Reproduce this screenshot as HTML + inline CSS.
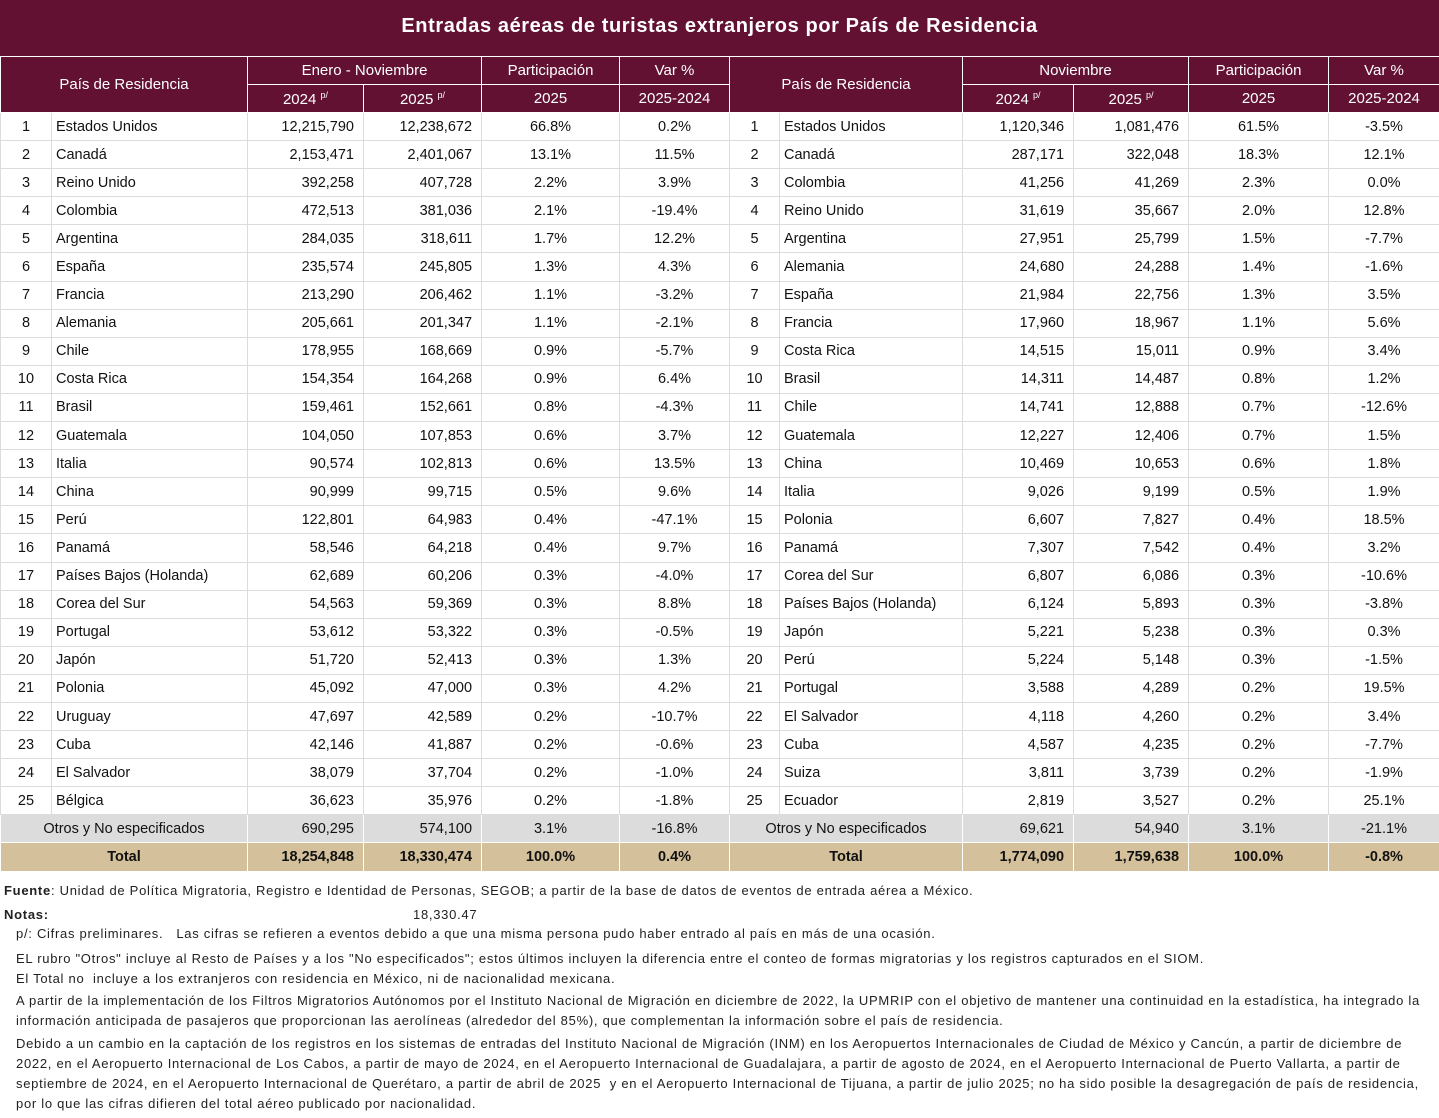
<!DOCTYPE html>
<html><head><meta charset="utf-8"><style>
body{margin:0;width:1439px;height:1118px;background:#fff;font-family:"Liberation Sans",sans-serif;color:#111;position:relative;overflow:hidden}
.title{position:absolute;left:0;top:0;width:1439px;height:56px;background:#621132;color:#fff;font-weight:bold;font-size:20px;letter-spacing:0.6px;text-align:center;line-height:52px}
table{position:absolute;left:0;top:56px;border-collapse:collapse;table-layout:fixed;width:1439px;font-size:14.5px}
td,th{padding:0;overflow:hidden;white-space:nowrap}
th{background:#621132;color:#fff;font-weight:normal;border:1px solid #fff;height:27px;font-size:15px}
th sup{font-size:9px;vertical-align:6px}
tbody td{height:27.1px;border:1px solid #dcdcdc;border-top:none}
td.n{text-align:center}
td.c{text-align:left;padding-left:4px}
td.r{text-align:right;padding-right:9px}
td.p{text-align:center}
tr.o td{background:#dcdcdc;border-color:#fff}
tr.t td{background:#d4c19c;font-weight:bold;border-color:#fff}
.note{position:absolute;font-size:13px;color:#222;white-space:nowrap;letter-spacing:0.72px}
</style></head><body>
<div class="title">Entradas aéreas de turistas extranjeros por País de Residencia</div>
<table>
<colgroup><col style="width:51px"><col style="width:196px"><col style="width:116px"><col style="width:118px"><col style="width:138px"><col style="width:110px"><col style="width:50px"><col style="width:183px"><col style="width:111px"><col style="width:115px"><col style="width:140px"><col style="width:111px"></colgroup>
<thead>
<tr><th colspan="2" rowspan="2">País de Residencia</th><th colspan="2">Enero - Noviembre</th><th>Participación</th><th>Var %</th><th colspan="2" rowspan="2">País de Residencia</th><th colspan="2">Noviembre</th><th>Participación</th><th>Var %</th></tr>
<tr><th>2024 <sup>p/</sup></th><th>2025 <sup>p/</sup></th><th>2025</th><th>2025-2024</th><th>2024 <sup>p/</sup></th><th>2025 <sup>p/</sup></th><th>2025</th><th>2025-2024</th></tr>
</thead>
<tbody>
<tr><td class="n">1</td><td class="c">Estados Unidos</td><td class="r">12,215,790</td><td class="r">12,238,672</td><td class="p">66.8%</td><td class="p">0.2%</td><td class="n">1</td><td class="c">Estados Unidos</td><td class="r">1,120,346</td><td class="r">1,081,476</td><td class="p">61.5%</td><td class="p">-3.5%</td></tr>
<tr><td class="n">2</td><td class="c">Canadá</td><td class="r">2,153,471</td><td class="r">2,401,067</td><td class="p">13.1%</td><td class="p">11.5%</td><td class="n">2</td><td class="c">Canadá</td><td class="r">287,171</td><td class="r">322,048</td><td class="p">18.3%</td><td class="p">12.1%</td></tr>
<tr><td class="n">3</td><td class="c">Reino Unido</td><td class="r">392,258</td><td class="r">407,728</td><td class="p">2.2%</td><td class="p">3.9%</td><td class="n">3</td><td class="c">Colombia</td><td class="r">41,256</td><td class="r">41,269</td><td class="p">2.3%</td><td class="p">0.0%</td></tr>
<tr><td class="n">4</td><td class="c">Colombia</td><td class="r">472,513</td><td class="r">381,036</td><td class="p">2.1%</td><td class="p">-19.4%</td><td class="n">4</td><td class="c">Reino Unido</td><td class="r">31,619</td><td class="r">35,667</td><td class="p">2.0%</td><td class="p">12.8%</td></tr>
<tr><td class="n">5</td><td class="c">Argentina</td><td class="r">284,035</td><td class="r">318,611</td><td class="p">1.7%</td><td class="p">12.2%</td><td class="n">5</td><td class="c">Argentina</td><td class="r">27,951</td><td class="r">25,799</td><td class="p">1.5%</td><td class="p">-7.7%</td></tr>
<tr><td class="n">6</td><td class="c">España</td><td class="r">235,574</td><td class="r">245,805</td><td class="p">1.3%</td><td class="p">4.3%</td><td class="n">6</td><td class="c">Alemania</td><td class="r">24,680</td><td class="r">24,288</td><td class="p">1.4%</td><td class="p">-1.6%</td></tr>
<tr><td class="n">7</td><td class="c">Francia</td><td class="r">213,290</td><td class="r">206,462</td><td class="p">1.1%</td><td class="p">-3.2%</td><td class="n">7</td><td class="c">España</td><td class="r">21,984</td><td class="r">22,756</td><td class="p">1.3%</td><td class="p">3.5%</td></tr>
<tr><td class="n">8</td><td class="c">Alemania</td><td class="r">205,661</td><td class="r">201,347</td><td class="p">1.1%</td><td class="p">-2.1%</td><td class="n">8</td><td class="c">Francia</td><td class="r">17,960</td><td class="r">18,967</td><td class="p">1.1%</td><td class="p">5.6%</td></tr>
<tr><td class="n">9</td><td class="c">Chile</td><td class="r">178,955</td><td class="r">168,669</td><td class="p">0.9%</td><td class="p">-5.7%</td><td class="n">9</td><td class="c">Costa Rica</td><td class="r">14,515</td><td class="r">15,011</td><td class="p">0.9%</td><td class="p">3.4%</td></tr>
<tr><td class="n">10</td><td class="c">Costa Rica</td><td class="r">154,354</td><td class="r">164,268</td><td class="p">0.9%</td><td class="p">6.4%</td><td class="n">10</td><td class="c">Brasil</td><td class="r">14,311</td><td class="r">14,487</td><td class="p">0.8%</td><td class="p">1.2%</td></tr>
<tr><td class="n">11</td><td class="c">Brasil</td><td class="r">159,461</td><td class="r">152,661</td><td class="p">0.8%</td><td class="p">-4.3%</td><td class="n">11</td><td class="c">Chile</td><td class="r">14,741</td><td class="r">12,888</td><td class="p">0.7%</td><td class="p">-12.6%</td></tr>
<tr><td class="n">12</td><td class="c">Guatemala</td><td class="r">104,050</td><td class="r">107,853</td><td class="p">0.6%</td><td class="p">3.7%</td><td class="n">12</td><td class="c">Guatemala</td><td class="r">12,227</td><td class="r">12,406</td><td class="p">0.7%</td><td class="p">1.5%</td></tr>
<tr><td class="n">13</td><td class="c">Italia</td><td class="r">90,574</td><td class="r">102,813</td><td class="p">0.6%</td><td class="p">13.5%</td><td class="n">13</td><td class="c">China</td><td class="r">10,469</td><td class="r">10,653</td><td class="p">0.6%</td><td class="p">1.8%</td></tr>
<tr><td class="n">14</td><td class="c">China</td><td class="r">90,999</td><td class="r">99,715</td><td class="p">0.5%</td><td class="p">9.6%</td><td class="n">14</td><td class="c">Italia</td><td class="r">9,026</td><td class="r">9,199</td><td class="p">0.5%</td><td class="p">1.9%</td></tr>
<tr><td class="n">15</td><td class="c">Perú</td><td class="r">122,801</td><td class="r">64,983</td><td class="p">0.4%</td><td class="p">-47.1%</td><td class="n">15</td><td class="c">Polonia</td><td class="r">6,607</td><td class="r">7,827</td><td class="p">0.4%</td><td class="p">18.5%</td></tr>
<tr><td class="n">16</td><td class="c">Panamá</td><td class="r">58,546</td><td class="r">64,218</td><td class="p">0.4%</td><td class="p">9.7%</td><td class="n">16</td><td class="c">Panamá</td><td class="r">7,307</td><td class="r">7,542</td><td class="p">0.4%</td><td class="p">3.2%</td></tr>
<tr><td class="n">17</td><td class="c">Países Bajos (Holanda)</td><td class="r">62,689</td><td class="r">60,206</td><td class="p">0.3%</td><td class="p">-4.0%</td><td class="n">17</td><td class="c">Corea del Sur</td><td class="r">6,807</td><td class="r">6,086</td><td class="p">0.3%</td><td class="p">-10.6%</td></tr>
<tr><td class="n">18</td><td class="c">Corea del Sur</td><td class="r">54,563</td><td class="r">59,369</td><td class="p">0.3%</td><td class="p">8.8%</td><td class="n">18</td><td class="c">Países Bajos (Holanda)</td><td class="r">6,124</td><td class="r">5,893</td><td class="p">0.3%</td><td class="p">-3.8%</td></tr>
<tr><td class="n">19</td><td class="c">Portugal</td><td class="r">53,612</td><td class="r">53,322</td><td class="p">0.3%</td><td class="p">-0.5%</td><td class="n">19</td><td class="c">Japón</td><td class="r">5,221</td><td class="r">5,238</td><td class="p">0.3%</td><td class="p">0.3%</td></tr>
<tr><td class="n">20</td><td class="c">Japón</td><td class="r">51,720</td><td class="r">52,413</td><td class="p">0.3%</td><td class="p">1.3%</td><td class="n">20</td><td class="c">Perú</td><td class="r">5,224</td><td class="r">5,148</td><td class="p">0.3%</td><td class="p">-1.5%</td></tr>
<tr><td class="n">21</td><td class="c">Polonia</td><td class="r">45,092</td><td class="r">47,000</td><td class="p">0.3%</td><td class="p">4.2%</td><td class="n">21</td><td class="c">Portugal</td><td class="r">3,588</td><td class="r">4,289</td><td class="p">0.2%</td><td class="p">19.5%</td></tr>
<tr><td class="n">22</td><td class="c">Uruguay</td><td class="r">47,697</td><td class="r">42,589</td><td class="p">0.2%</td><td class="p">-10.7%</td><td class="n">22</td><td class="c">El Salvador</td><td class="r">4,118</td><td class="r">4,260</td><td class="p">0.2%</td><td class="p">3.4%</td></tr>
<tr><td class="n">23</td><td class="c">Cuba</td><td class="r">42,146</td><td class="r">41,887</td><td class="p">0.2%</td><td class="p">-0.6%</td><td class="n">23</td><td class="c">Cuba</td><td class="r">4,587</td><td class="r">4,235</td><td class="p">0.2%</td><td class="p">-7.7%</td></tr>
<tr><td class="n">24</td><td class="c">El Salvador</td><td class="r">38,079</td><td class="r">37,704</td><td class="p">0.2%</td><td class="p">-1.0%</td><td class="n">24</td><td class="c">Suiza</td><td class="r">3,811</td><td class="r">3,739</td><td class="p">0.2%</td><td class="p">-1.9%</td></tr>
<tr><td class="n">25</td><td class="c">Bélgica</td><td class="r">36,623</td><td class="r">35,976</td><td class="p">0.2%</td><td class="p">-1.8%</td><td class="n">25</td><td class="c">Ecuador</td><td class="r">2,819</td><td class="r">3,527</td><td class="p">0.2%</td><td class="p">25.1%</td></tr>
<tr class="o"><td colspan="2" style="text-align:center">Otros y No especificados</td><td class="r">690,295</td><td class="r">574,100</td><td class="p">3.1%</td><td class="p">-16.8%</td><td colspan="2" style="text-align:center">Otros y No especificados</td><td class="r">69,621</td><td class="r">54,940</td><td class="p">3.1%</td><td class="p">-21.1%</td></tr>
<tr class="t"><td colspan="2" style="text-align:center">Total</td><td class="r">18,254,848</td><td class="r">18,330,474</td><td class="p">100.0%</td><td class="p">0.4%</td><td colspan="2" style="text-align:center">Total</td><td class="r">1,774,090</td><td class="r">1,759,638</td><td class="p">100.0%</td><td class="p">-0.8%</td></tr>
</tbody></table>
<div class="note" style="left:4px;top:883px"><b>Fuente</b>: Unidad de Política Migratoria, Registro e Identidad de Personas, SEGOB; a partir de la base de datos de eventos de entrada aérea a México.</div>
<div class="note" style="left:4px;top:907px"><b>Notas:</b></div>
<div class="note" style="left:413px;top:907px">18,330.47</div>
<div class="note" style="left:16px;top:926px">p/: Cifras preliminares.&nbsp;&nbsp; Las cifras se refieren a eventos debido a que una misma persona pudo haber entrado al país en más de una ocasión.</div>
<div class="note" style="left:16px;top:951px">EL rubro "Otros" incluye al Resto de Países y a los "No especificados"; estos últimos incluyen la diferencia entre el conteo de formas migratorias y los registros capturados en el SIOM.</div>
<div class="note" style="left:16px;top:971px">El Total no&nbsp; incluye a los extranjeros con residencia en México, ni de nacionalidad mexicana.</div>
<div class="note" style="left:16px;top:993px">A partir de la implementación de los Filtros Migratorios Autónomos por el Instituto Nacional de Migración en diciembre de 2022, la UPMRIP con el objetivo de mantener una continuidad en la estadística, ha integrado la</div>
<div class="note" style="left:16px;top:1013px">información anticipada de pasajeros que proporcionan las aerolíneas (alrededor del 85%), que complementan la información sobre el país de residencia.</div>
<div class="note" style="left:16px;top:1036px">Debido a un cambio en la captación de los registros en los sistemas de entradas del Instituto Nacional de Migración (INM) en los Aeropuertos Internacionales de Ciudad de México y Cancún, a partir de diciembre de</div>
<div class="note" style="left:16px;top:1056px">2022, en el Aeropuerto Internacional de Los Cabos, a partir de mayo de 2024, en el Aeropuerto Internacional de Guadalajara, a partir de agosto de 2024, en el Aeropuerto Internacional de Puerto Vallarta, a partir de</div>
<div class="note" style="left:16px;top:1076px">septiembre de 2024, en el Aeropuerto Internacional de Querétaro, a partir de abril de 2025&nbsp; y en el Aeropuerto Internacional de Tijuana, a partir de julio 2025; no ha sido posible la desagregación de país de residencia,</div>
<div class="note" style="left:16px;top:1096px">por lo que las cifras difieren del total aéreo publicado por nacionalidad.</div>
</body></html>
